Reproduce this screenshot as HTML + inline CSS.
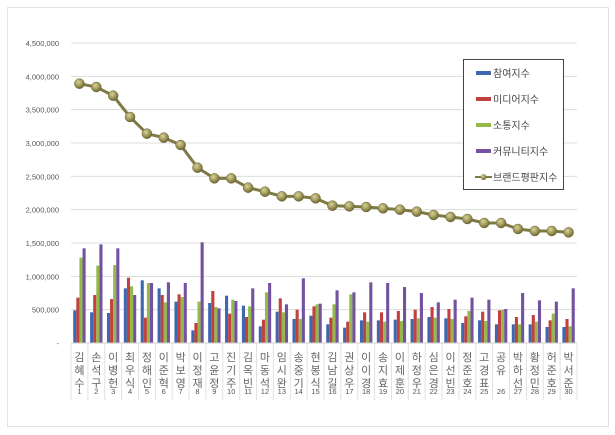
<!DOCTYPE html>
<html><head><meta charset="utf-8"><style>
html,body{margin:0;padding:0;background:#fff;}
svg{display:block;font-family:"Liberation Sans","Noto Sans CJK KR",sans-serif;}
</style></head><body>
<svg id="chart" width="615" height="435" viewBox="0 0 615 435">
<defs>
<radialGradient id="ball" cx="40%" cy="35%" r="65%"><stop offset="0" stop-color="#d8d39a"/><stop offset="0.6" stop-color="#9d9657"/><stop offset="1" stop-color="#6b6636"/></radialGradient>
</defs>
<rect x="7.5" y="7.5" width="601" height="419" fill="#fff" stroke="#e4e4e4"/>
<g id="grid"></g><g id="bars"></g><g id="line"></g><g id="xlabels"></g>
<g>
<rect x="463.5" y="59.5" width="100" height="130" fill="#fff" stroke="#444"/>
<g id="legend"></g>
</g>
</svg>
<script>
const names=["김혜수","손석구","이병헌","최우식","정해인","이준혁","박보영","이정재","고윤정","진기주","김옥빈","마동석","임시완","송중기","현봉식","김남길","권상우","이이경","송지효","이제훈","하정우","심은경","이선빈","정준호","고경표","공유","박하선","황정민","허준호","박서준"];
const participation=[490,460,450,820,940,820,620,190,600,710,560,250,470,360,410,280,230,340,340,350,360,390,370,300,340,280,280,280,240,240];
const media=[680,720,660,980,380,720,730,300,780,440,390,350,670,500,550,380,320,460,460,480,500,540,510,400,470,490,390,420,340,360];
const communication=[1280,1160,1170,850,900,610,690,620,540,650,550,760,460,360,580,580,730,320,320,330,370,380,360,480,330,500,280,320,440,250];
const community=[1420,1480,1420,720,900,910,900,1510,520,630,820,900,580,970,590,790,760,910,900,840,750,610,650,680,650,510,750,640,620,820];
const brand=[3890,3840,3710,3390,3140,3080,2970,2630,2470,2470,2330,2270,2200,2200,2170,2060,2050,2040,2020,2000,1970,1920,1890,1860,1800,1800,1710,1680,1680,1660];
const yTicks=[0,500,1000,1500,2000,2500,3000,3500,4000,4500];
const yTickLabels=["-","500,000","1,000,000","1,500,000","2,000,000","2,500,000","3,000,000","3,500,000","4,000,000","4,500,000"];
const seriesNames=["참여지수","미디어지수","소통지수","커뮤니티지수","브랜드평판지수"];
const NS="http://www.w3.org/2000/svg";
const L=71,R=577,T=43,B=343,band=(R-L)/names.length;
const y=v=>B-(v/4500)*(B-T);
const xc=i=>L+band*(i+0.5);
function mk(tag,attrs,parent){const e=document.createElementNS(NS,tag);for(const k in attrs)e.setAttribute(k,attrs[k]);parent.appendChild(e);return e;}
const grid=document.getElementById('grid');
yTicks.forEach((t,i)=>{
  const gl=mk('line',{x1:L,x2:R,y1:y(t),y2:y(t),stroke:'#dcdcdc','stroke-width':1},grid);
  
  
  const tx=mk('text',{x:L-12,y:y(t)+3,'text-anchor':'end','font-size':'7.5',fill:'#555'},grid);
  tx.textContent=yTickLabels[i];
  
  
});
const colors=["#3f67b0","#c0413d","#94b94b","#7352a0"];
const series=[participation,media,communication,community];
const barsG=document.getElementById('bars');
const bw=3.1;
names.forEach((n,i)=>{
  series.forEach((s,j)=>{
    const x=xc(i)-2*bw+j*bw;
    const r=mk('rect',{x:x,y:y(s[i]),width:bw,height:B-y(s[i]),fill:colors[j]},barsG);
    
    
  });
});
const lineG=document.getElementById('line');
const pts=brand.map((v,i)=>xc(i)+','+y(v)).join(' ');
const pl=mk('polyline',{points:pts,fill:'none',stroke:'#7f7a44','stroke-width':3},lineG);


brand.forEach((v,i)=>{
  const c=mk('circle',{cx:xc(i),cy:y(v),r:5,fill:'url(#ball)',stroke:'#6b6636','stroke-width':0.5},lineG);
  
  
});
const xl=document.getElementById('xlabels');
mk('line',{x1:L,x2:R,y1:B,y2:B,stroke:'#ccc'},xl);
names.forEach((n,i)=>{
  const sep=mk('line',{x1:L+band*i,x2:L+band*i,y1:B,y2:400,stroke:'#e2e2e2'},xl);
  
  
  [...n].forEach((ch,k)=>{
    const t=mk('text',{x:xc(i),y:361+k*13,'text-anchor':'middle','font-size':'11',fill:'#666'},xl);
    t.textContent=ch;
    
    
  });
  const num=mk('text',{x:xc(i),y:394,'text-anchor':'middle','font-size':'7.5',fill:'#555'},xl);
  num.textContent=String(i+1);
  
  
});
mk('line',{x1:R,x2:R,y1:B,y2:400,stroke:'#e2e2e2'},xl);
const lg=document.getElementById('legend');
seriesNames.forEach((s,j)=>{
  const yy=73+j*26;
  if(j<4){
    const sw=mk('rect',{x:476,y:yy-2,width:15,height:4,fill:colors[j]},lg);
    
    
  } else {
    mk('line',{x1:475,x2:492,y1:yy,y2:yy,stroke:'#7f7a44','stroke-width':2},lg);
    const c=mk('circle',{cx:483.5,cy:yy,r:3,fill:'url(#ball)'},lg);
    
    
  }
  const t=mk('text',{x:493,y:yy+4,'font-size':'10',fill:'#444'},lg);
  t.textContent=s;
  
  
});
</script>
</body></html>
